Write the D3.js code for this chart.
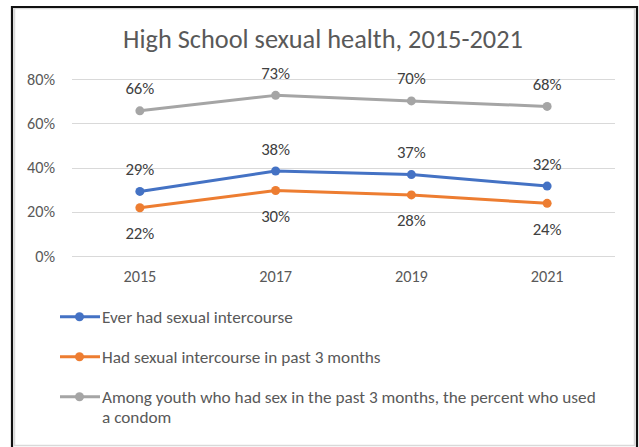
<!DOCTYPE html>
<html>
<head>
<meta charset="utf-8">
<script src="https://cdn.jsdelivr.net/npm/d3@7/dist/d3.min.js"></script>
<style>
  html, body { margin: 0; padding: 0; background: #fff; }
  svg { display: block; }
  text { font-family: Carlito, Lato, "Open Sans", sans-serif; }
</style>
</head>
<body>
<svg id="chart" width="639" height="447"></svg>
<script>
const title = "High School sexual health, 2015-2021";
const years = ["2015", "2017", "2019", "2021"];
const seriesNames = [
  "Ever had sexual intercourse",
  "Had sexual intercourse in past 3 months",
  "Among youth who had sex in the past 3 months, the percent who used a condom"
];
const everHadSex = [29.2, 38.4, 36.8, 31.6];
const sexPast3Months = [21.8, 29.6, 27.6, 23.8];
const condomUse = [65.6, 72.6, 70.1, 67.6];
const yTicks = [0, 20, 40, 60, 80];

const colors = ["#4472C4", "#ED7D31", "#A5A5A5"];
const labelSide = ["above", "below", "above"];
const seriesValues = [everHadSex, sexPast3Months, condomUse];

const svg = d3.select("#chart");

// helper to fit a font size to a target width
const measurer = svg.append("text").attr("font-size", 100).attr("visibility", "hidden");
function fitSize(str, target) {
  measurer.text(str);
  const w = measurer.node().getComputedTextLength();
  return 100 * target / w;
}

// frame
svg.append("rect").attr("x", 0).attr("y", 0).attr("width", 639).attr("height", 447).attr("fill", "#fff");
svg.append("rect").attr("x", 14.5).attr("y", 8.5).attr("width", 620).attr("height", 437)
  .attr("fill", "none").attr("stroke", "#d9d9d9").attr("stroke-width", 1.5);
svg.append("path").attr("d", "M12,447 V7 H637 V447")
  .attr("fill", "none").attr("stroke", "#111").attr("stroke-width", 2.2);

// title
svg.append("text")
  .attr("x", 323).attr("y", 47.5)
  .attr("text-anchor", "middle")
  .attr("font-size", fitSize(title, 400))
  .attr("fill", "#595959")
  .text(title);

const x = d3.scaleBand().domain(years).range([72, 615]);
const y = d3.scaleLinear().domain([0, 80]).range([256, 79]);

// gridlines
svg.append("g").selectAll("line").data(yTicks).join("line")
  .attr("x1", 72).attr("x2", 615)
  .attr("y1", d => Math.round(y(d)) + 0.5).attr("y2", d => Math.round(y(d)) + 0.5)
  .attr("stroke", "#d9d9d9").attr("stroke-width", 1);

const tickSize = fitSize("80%", 28);
// y axis
const yAxis = d3.axisLeft(y).tickValues(yTicks).tickFormat(d => d + "%").tickSize(0).tickPadding(0);
const yg = svg.append("g").attr("transform", "translate(55,0)").call(yAxis);
yg.select(".domain").remove();
yg.selectAll("text").attr("font-size", tickSize).attr("fill", "#595959")
  .attr("font-family", "Carlito, Lato, sans-serif");

// x axis
const xAxis = d3.axisBottom(x).tickSize(0).tickPadding(0);
const xg = svg.append("g").attr("transform", "translate(0,270)").call(xAxis);
xg.select(".domain").remove();
xg.selectAll("text").attr("font-size", fitSize("2015", 33)).attr("fill", "#595959")
  .attr("font-family", "Carlito, Lato, sans-serif")
  .attr("dy", "0.71em");

const line = d3.line().x((d, i) => x(years[i]) + x.bandwidth() / 2).y(d => y(d));
const labelSize = fitSize("66%", 29);

seriesValues.forEach((vals, s) => {
  const g = svg.append("g");
  g.append("path").datum(vals)
    .attr("d", line)
    .attr("fill", "none")
    .attr("stroke", colors[s])
    .attr("stroke-width", 3)
    .attr("stroke-linejoin", "round")
    .attr("stroke-linecap", "round");
  g.selectAll("circle").data(vals).join("circle")
    .attr("cx", (d, i) => x(years[i]) + x.bandwidth() / 2)
    .attr("cy", d => y(d))
    .attr("r", 4.5)
    .attr("fill", colors[s]);
  g.selectAll("text").data(vals).join("text")
    .attr("x", (d, i) => x(years[i]) + x.bandwidth() / 2)
    .attr("y", d => y(d) + (labelSide[s] === "above" ? -22 : 26))
    .attr("dominant-baseline", "central")
    .attr("text-anchor", "middle")
    .attr("font-size", labelSize)
    .attr("fill", "#404040")
    .text(d => Math.round(d) + "%");
});

// legend
const legSize = fitSize(seriesNames[0], 191);
const legendRows = [316.7, 356.7, 396.7];
const maxTextWidth = 500;
seriesNames.forEach((name, s) => {
  const g = svg.append("g").attr("transform", `translate(0,${legendRows[s]})`);
  g.append("line").attr("x1", 60).attr("x2", 100).attr("y1", 0).attr("y2", 0)
    .attr("stroke", colors[s]).attr("stroke-width", 3);
  g.append("circle").attr("cx", 79.5).attr("cy", 0).attr("r", 4.5).attr("fill", colors[s]);
  const t = g.append("text").attr("x", 102).attr("y", 0)
    .attr("dominant-baseline", "central")
    .attr("font-size", legSize).attr("fill", "#595959");
  // word wrap
  const words = name.split(" ");
  let lines = [], cur = "";
  words.forEach(w => {
    const test = cur ? cur + " " + w : w;
    measurer.attr("font-size", legSize).text(test);
    if (measurer.node().getComputedTextLength() > maxTextWidth && cur) {
      lines.push(cur); cur = w;
    } else cur = test;
  });
  lines.push(cur);
  lines.forEach((ln, i) => {
    t.append("tspan").attr("x", 102).attr("y", i * 20).text(ln);
  });
});
measurer.remove();
</script>
</body>
</html>
